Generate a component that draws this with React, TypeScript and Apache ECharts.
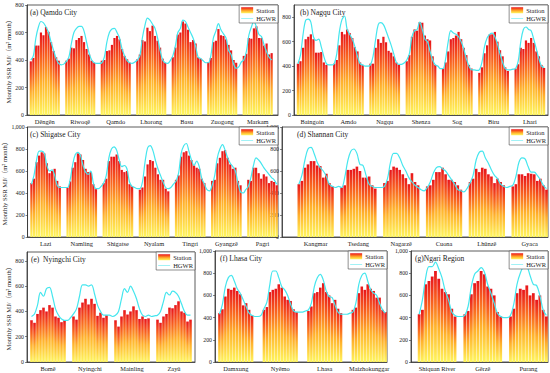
import React, { useEffect, useRef } from 'react';
import * as echarts from 'echarts';

// ---------- (a) Qamdo City ----------
const qamdoNames = ['Dêngên', 'Riwoqê', 'Qamdo', 'Lhorong', 'Basu', 'Zuogong', 'Markam'];
const qamdoStation = [
  [390, 415, 505, 505, 600, 580, 640, 605, 530, 465, 420, 395],
  [395, 410, 490, 485, 545, 560, 575, 530, 480, 440, 395, 380],
  [395, 400, 465, 470, 510, 560, 575, 550, 480, 430, 405, 380],
  [405, 440, 545, 535, 635, 610, 650, 575, 540, 490, 410, 380],
  [420, 490, 585, 600, 680, 665, 620, 530, 545, 520, 420, 410],
  [385, 415, 530, 540, 625, 580, 575, 550, 510, 470, 400, 380],
  [430, 445, 560, 555, 630, 645, 560, 560, 505, 520, 440, 450],
];
const qamdoHGWR = [
  [400, 430, 560, 640, 680, 670, 640, 600, 530, 470, 410, 375],
  [390, 420, 520, 600, 630, 645, 645, 610, 530, 450, 400, 380],
  [380, 420, 530, 600, 625, 630, 600, 560, 480, 430, 395, 380],
  [400, 430, 560, 650, 705, 690, 660, 630, 560, 470, 400, 380],
  [430, 500, 600, 630, 690, 680, 640, 600, 560, 500, 420, 410],
  [380, 430, 560, 610, 665, 620, 590, 560, 470, 440, 370, 340],
  [400, 460, 580, 640, 680, 640, 585, 570, 510, 460, 420, 400],
];
const qamdoGapHGWR = [[365, 370], [375, 375], [375, 385], [375, 395], [395, 380], [350, 385]];

// ---------- (b) Nagqu City ----------
const nagquNames = ['Baingoin', 'Amdo', 'Nagqu', 'Shenza', 'Sog', 'Biru', 'Lhari'];
const nagquStation = [
  [420, 440, 550, 620, 640, 660, 620, 510, 510, 515, 430, 410],
  [420, 450, 570, 680, 660, 700, 670, 630, 555, 520, 430, 410],
  [420, 420, 550, 620, 590, 640, 595, 525, 510, 480, 430, 410],
  [440, 490, 640, 700, 690, 760, 755, 650, 620, 610, 480, 410],
  [380, 430, 520, 620, 630, 650, 680, 620, 550, 490, 410, 380],
  [345, 390, 505, 570, 660, 660, 680, 600, 530, 480, 390, 360],
  [380, 415, 550, 540, 610, 590, 630, 590, 520, 480, 410, 385],
];
const nagquHGWR = [
  [420, 490, 660, 775, 785, 760, 640, 610, 620, 560, 480, 420],
  [420, 500, 680, 780, 810, 700, 660, 620, 560, 480, 420, 410],
  [410, 480, 620, 740, 755, 740, 690, 630, 570, 500, 430, 415],
  [450, 500, 640, 690, 700, 760, 700, 620, 600, 520, 450, 410],
  [380, 460, 600, 690, 670, 660, 640, 600, 540, 460, 400, 370],
  [370, 430, 560, 630, 660, 670, 640, 580, 500, 430, 380, 370],
  [380, 440, 600, 700, 720, 700, 690, 620, 540, 460, 400, 390],
];
const nagquGapHGWR = [[410, 410], [400, 400], [415, 425], [400, 380], [370, 365], [370, 375]];

// ---------- (c) Shigatse City ----------
const shigatseNames = ['Lazi', 'Namling', 'Shigatse', 'Nyalam', 'Tingri', 'Gyangzê', 'Pagri'];
const shigatseStation = [
  [490, 530, 680, 740, 770, 760, 670, 580, 600, 620, 510, 460],
  [450, 505, 630, 680, 760, 750, 700, 620, 590, 590, 480, 435],
  [490, 530, 690, 730, 730, 750, 690, 610, 590, 600, 480, 460],
  [430, 450, 550, 660, 700, 690, 630, 570, 520, 520, 440, 415],
  [520, 560, 730, 770, 780, 740, 700, 650, 630, 620, 530, 490],
  [510, 520, 670, 720, 780, 790, 720, 660, 620, 630, 510, 470],
  [520, 510, 630, 630, 580, 530, 570, 550, 490, 510, 500, 470],
];
const shigatseHGWR = [
  [480, 560, 700, 780, 780, 760, 650, 600, 610, 560, 470, 450],
  [450, 520, 660, 750, 770, 740, 650, 590, 570, 600, 490, 440],
  [490, 560, 720, 800, 820, 790, 700, 640, 650, 620, 500, 460],
  [440, 500, 680, 810, 830, 790, 700, 620, 560, 500, 450, 440],
  [510, 580, 760, 830, 850, 780, 700, 650, 690, 640, 530, 480],
  [470, 560, 720, 800, 840, 790, 720, 670, 640, 600, 490, 410],
  [460, 540, 650, 720, 700, 670, 630, 600, 570, 540, 520, 480],
];
const shigatseGapHGWR = [[450, 450], [440, 460], [450, 440], [450, 480], [430, 420], [400, 430]];

// ---------- (d) Shannan City ----------
const shannanNames = ['Kangmar', 'Tsedang', 'Nagarzê', 'Cuona', 'Lhünzê', 'Gyaca'];
const shannanStation = [
  [480, 510, 630, 660, 690, 690, 650, 645, 540, 575, 490, 460],
  [450, 470, 610, 610, 620, 640, 600, 540, 540, 550, 470, 440],
  [490, 510, 610, 640, 630, 610, 570, 535, 480, 580, 500, 470],
  [460, 470, 520, 590, 590, 630, 570, 520, 520, 500, 470, 430],
  [500, 530, 620, 590, 630, 620, 570, 550, 490, 530, 500, 470],
  [460, 480, 570, 570, 555, 580, 575, 570, 510, 530, 470, 430],
];
const shannanHGWR = [
  [480, 560, 700, 800, 815, 760, 680, 630, 600, 550, 480, 460],
  [450, 540, 690, 780, 800, 760, 660, 650, 560, 480, 460, 450],
  [460, 530, 680, 760, 760, 720, 650, 600, 540, 500, 470, 450],
  [450, 500, 580, 630, 640, 620, 600, 560, 520, 480, 430, 420],
  [490, 560, 700, 770, 780, 720, 670, 610, 560, 530, 480, 460],
  [470, 550, 680, 720, 710, 640, 590, 590, 560, 520, 470, 440],
];
const shannanGapHGWR = [[450, 460], [450, 450], [430, 420], [410, 440], [450, 460]];

// ---------- (e) Nyingchi City ----------
const nyingchiNames = ['Bomê', 'Nyingchi', 'Mainling', 'Zayü'];
const nyingchiStation = [
  [330, 310, 380, 410, 430, 400, 450, 430, 360, 350, 315, 330],
  [360, 335, 430, 470, 500, 455, 500, 460, 365, 390, 350, 370],
  [330, 280, 360, 410, 375, 400, 440, 410, 340, 360, 340, 345],
  [335, 310, 360, 380, 430, 425, 450, 480, 400, 390, 320, 335],
];
const nyingchiHGWR = [
  [360, 380, 450, 550, 520, 580, 590, 520, 420, 370, 340, 330],
  [380, 420, 520, 610, 610, 600, 610, 540, 450, 400, 370, 370],
  [370, 400, 500, 580, 550, 600, 560, 500, 420, 370, 360, 370],
  [370, 400, 480, 550, 530, 560, 550, 520, 460, 400, 370, 370],
];
const nyingchiGapHGWR = [[330, 350], [370, 360], [360, 365]];

// ---------- (f) Lhasa City ----------
const lhasaNames = ['Damxung', 'Nyêmo', 'Lhasa', 'Maizhokunggar'];
const lhasaStation = [
  [440, 475, 590, 660, 650, 670, 640, 610, 510, 530, 470, 420],
  [470, 495, 630, 650, 660, 700, 670, 590, 560, 550, 475, 450],
  [460, 500, 620, 630, 670, 710, 630, 600, 530, 560, 480, 440],
  [470, 490, 620, 680, 650, 700, 660, 640, 580, 580, 470, 450],
];
const lhasaHGWR = [
  [430, 520, 680, 760, 780, 730, 660, 620, 560, 500, 440, 420],
  [480, 540, 700, 820, 820, 760, 680, 650, 600, 520, 460, 450],
  [470, 530, 680, 760, 790, 740, 640, 590, 580, 510, 450, 430],
  [450, 530, 700, 780, 800, 730, 650, 620, 600, 530, 470, 440],
];
const lhasaGapHGWR = [[410, 410, 420], [450, 450, 460], [430, 430, 440]];

// ---------- (g) Ngari Region ----------
const ngariNames = ['Shiquan River', 'Gêrzê', 'Purang'];
const ngariStation = [
  [430, 470, 700, 730, 770, 820, 750, 660, 630, 610, 480, 410],
  [430, 460, 610, 710, 730, 820, 790, 680, 660, 600, 450, 410],
  [410, 480, 620, 660, 650, 690, 600, 620, 560, 600, 470, 410],
];
const ngariHGWR = [
  [430, 560, 760, 860, 860, 900, 840, 760, 640, 560, 450, 420],
  [420, 500, 680, 790, 820, 850, 810, 700, 620, 530, 440, 410],
  [420, 520, 700, 800, 850, 850, 780, 700, 690, 600, 470, 420],
];
const ngariGapHGWR = [[410, 410], [400, 400]];

const yName = 'Monthly SSR MJ/（m² month）';
const FONT = '"Liberation Serif", "Times New Roman", "Noto Sans CJK SC", serif';
const CYAN = '#45e6ee';
// thin horizontal line inside a 0..6 tall box, for the HGWR legend icon
const LINE_ICON = 'path://M0,0 h0.01 v0.01 h-0.01 z M0,2.4 h24 v1.2 h-24 z M0,5.99 h0.01 v0.01 h-0.01 z';

type Panel = {
  title: string;
  names: string[];
  station: number[][];
  hgwr: number[][];
  gaps: number[][];
  lead: number;
  trail: number;
  box: [number, number, number, number]; // left, top, right, bottom (px)
  max: number;
  showName: boolean;
  showMax: boolean;
  titlePos: [number, number];
};

const panels: Panel[] = [
  { title: '(a) Qamdo City', names: qamdoNames, station: qamdoStation, hgwr: qamdoHGWR, gaps: qamdoGapHGWR, lead: 1, trail: 2, box: [27, 5, 278, 115], max: 800, showName: true, showMax: true, titlePos: [30, 9] },
  { title: '(b) Nagqu City', names: nagquNames, station: nagquStation, hgwr: nagquHGWR, gaps: nagquGapHGWR, lead: 1, trail: 1, box: [294, 5, 548, 115], max: 900, showName: false, showMax: false, titlePos: [300, 9] },
  { title: '(c) Shigatse City', names: shigatseNames, station: shigatseStation, hgwr: shigatseHGWR, gaps: shigatseGapHGWR, lead: 1, trail: 0, box: [27, 127, 278, 237], max: 1000, showName: true, showMax: true, titlePos: [30, 131] },
  { title: '(d) Shannan City', names: shannanNames, station: shannanStation, hgwr: shannanHGWR, gaps: shannanGapHGWR, lead: 5, trail: 0, box: [282, 127, 548, 237], max: 1000, showName: false, showMax: true, titlePos: [297, 131] },
  { title: '(e)  Nyingchi City', names: nyingchiNames, station: nyingchiStation, hgwr: nyingchiHGWR, gaps: nyingchiGapHGWR, lead: 1, trail: 1, box: [27, 252, 195, 362], max: 870, showName: true, showMax: false, titlePos: [31, 256] },
  { title: '(f) Lhasa City', names: lhasaNames, station: lhasaStation, hgwr: lhasaHGWR, gaps: lhasaGapHGWR, lead: 1, trail: 0, box: [215, 251, 387, 362], max: 1000, showName: false, showMax: true, titlePos: [220, 255] },
  { title: '(g)Ngari Region', names: ngariNames, station: ngariStation, hgwr: ngariHGWR, gaps: ngariGapHGWR, lead: 2, trail: 0, box: [411, 251, 548, 362], max: 1000, showName: false, showMax: true, titlePos: [415, 255] },
];

const W = 550;
const H = 373;

function buildOption() {
  const grid: any[] = [];
  const xAxis: any[] = [];
  const yAxis: any[] = [];
  const series: any[] = [];
  const title: any[] = [];
  const legend: any[] = [];
  const barColor = new echarts.graphic.LinearGradient(0, 0, 0, 1, [
    { offset: 0, color: '#e8141b' },
    { offset: 0.3, color: '#f8601f' },
    { offset: 0.6, color: '#ffb22c' },
    { offset: 1, color: '#fff65e' },
  ]);

  panels.forEach((p, i) => {
    const cats: string[] = [];
    const labels: string[] = [];
    const bars: (number | null)[] = [];
    const line: (number | null)[] = [];
    const push = (lab: string, b: number | null, l: number | null) => {
      cats.push('c' + cats.length);
      labels.push(lab);
      bars.push(b);
      line.push(l);
    };
    for (let k = 0; k < p.lead; k++) push('', null, null);
    p.names.forEach((n, si) => {
      if (si > 0) p.gaps[si - 1].forEach((g) => push('', null, g));
      for (let m = 0; m < 12; m++) push(m === 6 ? n : '', p.station[si][m], p.hgwr[si][m]);
    });
    for (let k = 0; k < p.trail; k++) push('', null, null);

    const [l, t, r, b] = p.box;
    const slotW = (r - l) / cats.length;
    grid.push({
      left: l, top: t, width: r - l, height: b - t,
      show: true, borderColor: '#333', borderWidth: 0.8, containLabel: false,
    });
    xAxis.push({
      type: 'category', gridIndex: i, data: cats, boundaryGap: true,
      axisLine: { show: true, lineStyle: { color: '#333', width: 0.8 } },
      axisTick: { show: false },
      axisLabel: {
        interval: 0, margin: 3, fontSize: 6.4, color: '#222', fontFamily: FONT,
        // shift right-of-centre label back by half a slot so it sits under the group centre
        formatter: (_v: string, idx: number) => (labels[idx] ? '{c|' + labels[idx] + '}' : ''),
        rich: { c: { fontSize: 6.4, color: '#222', fontFamily: FONT, padding: [0, slotW, 0, 0] } },
      },
      splitLine: { show: false },
    });
    yAxis.push({
      type: 'value', gridIndex: i, min: 0, max: p.max, interval: 200,
      name: p.showName ? yName : '', nameLocation: 'middle', nameGap: 14, nameRotate: 90,
      nameTextStyle: { fontSize: 6.6, color: '#222', fontFamily: FONT },
      axisLine: { show: true, lineStyle: { color: '#333', width: 0.8 } },
      axisTick: { show: true, inside: false, length: 2, lineStyle: { color: '#333', width: 0.6 } },
      axisLabel: { fontSize: 5.8, margin: 3, color: '#222', fontFamily: FONT, showMaxLabel: p.showMax },
      splitLine: { show: false },
    });
    series.push({
      name: 'Station', type: 'bar', xAxisIndex: i, yAxisIndex: i, data: bars,
      barCategoryGap: '14%', itemStyle: { color: barColor }, z: 2,
    });
    series.push({
      name: 'HGWR', type: 'line', xAxisIndex: i, yAxisIndex: i, data: line,
      smooth: 0.35, symbol: 'none', showSymbol: false, connectNulls: false,
      lineStyle: { color: CYAN, width: 1.2 }, itemStyle: { color: CYAN }, z: 3,
    });
    title.push({
      text: p.title, left: p.titlePos[0], top: p.titlePos[1], padding: 0,
      textStyle: { fontSize: 7.5, fontWeight: 'normal', color: '#222', fontFamily: FONT },
    });
    legend.push({
      data: [
        { name: 'Station', icon: 'rect' },
        { name: 'HGWR', icon: LINE_ICON, itemStyle: { color: CYAN, borderWidth: 0 } },
      ],
      orient: 'vertical', right: W - r, top: t, itemWidth: 12, itemHeight: 6, itemGap: 2,
      padding: [2, 2, 1, 2], borderColor: '#444', borderWidth: 0.6, backgroundColor: '#fff',
      textStyle: { fontSize: 6.5, color: '#222', fontFamily: FONT, padding: [0, 0, 0, -2] },
      selectedMode: false, z: 10,
    });
  });

  return {
    animation: false,
    backgroundColor: '#ffffff',
    textStyle: { fontFamily: FONT },
    title, legend, grid, xAxis, yAxis, series,
  };
}

export default function App() {
  const ref = useRef<HTMLDivElement>(null);
  useEffect(() => {
    if (!ref.current) return;
    const chart = echarts.init(ref.current, undefined, { renderer: 'svg', width: W, height: H });
    chart.setOption(buildOption() as any);
    return () => chart.dispose();
  }, []);
  return (
    <div
      ref={ref}
      style={{ position: 'fixed', left: 0, top: 0, width: W, height: H, background: '#fff' }}
    />
  );
}
